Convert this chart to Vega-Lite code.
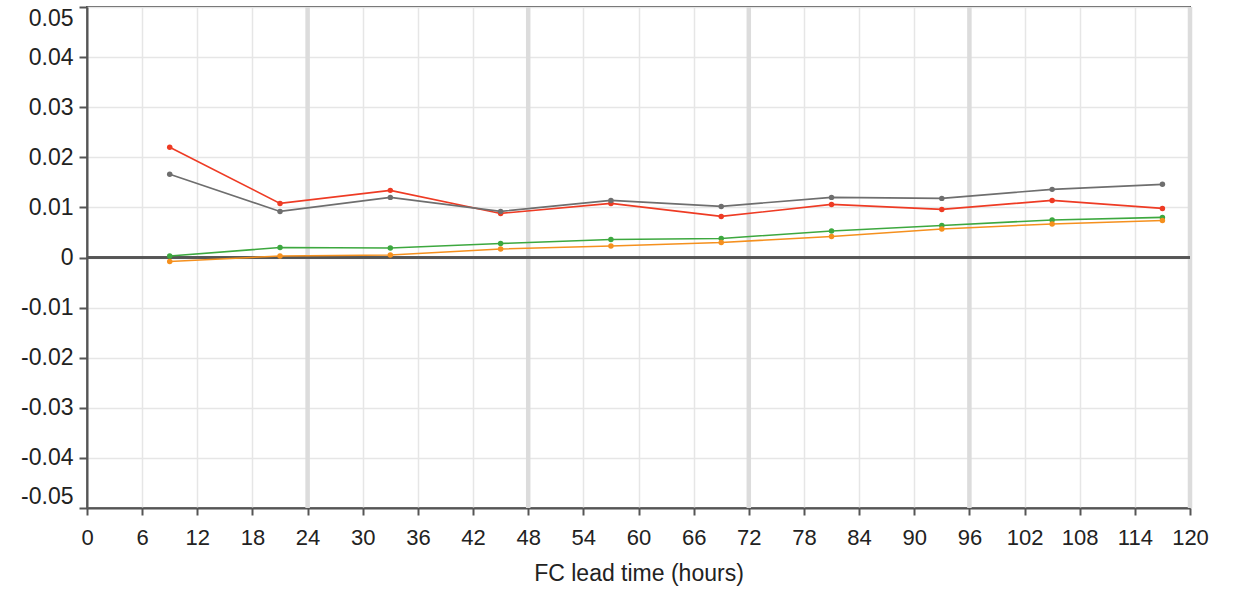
{
  "$schema": "https://vega.github.io/schema/vega-lite/v6.json",
  "autosize": "none",
  "width": 1103,
  "height": 501,
  "padding": {"left": 87, "top": 7, "right": 50, "bottom": 82},
  "config": {
    "font": "Liberation Sans",
    "view": {"stroke": "#555555", "strokeWidth": 2},
    "axis": {
      "labelFont": "Liberation Sans",
      "titleFont": "Liberation Sans",
      "labelFontSize": 22,
      "titleFontSize": 23,
      "labelColor": "#222222",
      "titleColor": "#222222",
      "titleFontWeight": "normal",
      "gridColor": "#e6e6e6",
      "gridWidth": 1.5,
      "domainColor": "#555555",
      "domainWidth": 2,
      "tickColor": "#555555",
      "tickWidth": 2,
      "tickSize": 7
    }
  },
  "datasets": {
    "series": [
      {"lead": 9, "series": "red", "value": 0.022},
      {"lead": 21, "series": "red", "value": 0.0108},
      {"lead": 33, "series": "red", "value": 0.0134},
      {"lead": 45, "series": "red", "value": 0.0088},
      {"lead": 57, "series": "red", "value": 0.0108},
      {"lead": 69, "series": "red", "value": 0.0082},
      {"lead": 81, "series": "red", "value": 0.0106},
      {"lead": 93, "series": "red", "value": 0.0096},
      {"lead": 105, "series": "red", "value": 0.0114},
      {"lead": 117, "series": "red", "value": 0.0098},
      {"lead": 9, "series": "grey", "value": 0.0166},
      {"lead": 21, "series": "grey", "value": 0.0092},
      {"lead": 33, "series": "grey", "value": 0.012},
      {"lead": 45, "series": "grey", "value": 0.0092},
      {"lead": 57, "series": "grey", "value": 0.0114},
      {"lead": 69, "series": "grey", "value": 0.0102},
      {"lead": 81, "series": "grey", "value": 0.012},
      {"lead": 93, "series": "grey", "value": 0.0118},
      {"lead": 105, "series": "grey", "value": 0.0136},
      {"lead": 117, "series": "grey", "value": 0.0146},
      {"lead": 9, "series": "green", "value": 0.0003},
      {"lead": 21, "series": "green", "value": 0.002},
      {"lead": 33, "series": "green", "value": 0.0019},
      {"lead": 45, "series": "green", "value": 0.0028},
      {"lead": 57, "series": "green", "value": 0.0036},
      {"lead": 69, "series": "green", "value": 0.0038},
      {"lead": 81, "series": "green", "value": 0.0053},
      {"lead": 93, "series": "green", "value": 0.0064},
      {"lead": 105, "series": "green", "value": 0.0075},
      {"lead": 117, "series": "green", "value": 0.008},
      {"lead": 9, "series": "orange", "value": -0.0008},
      {"lead": 21, "series": "orange", "value": 0.0003},
      {"lead": 33, "series": "orange", "value": 0.0005},
      {"lead": 45, "series": "orange", "value": 0.0017},
      {"lead": 57, "series": "orange", "value": 0.0023},
      {"lead": 69, "series": "orange", "value": 0.003},
      {"lead": 81, "series": "orange", "value": 0.0042},
      {"lead": 93, "series": "orange", "value": 0.0057},
      {"lead": 105, "series": "orange", "value": 0.0067},
      {"lead": 117, "series": "orange", "value": 0.0074}
    ],
    "days": [{"lead": 24}, {"lead": 48}, {"lead": 72}, {"lead": 96}, {"lead": 120}]
  },
  "layer": [
    {
      "data": {"name": "days"},
      "mark": {"type": "rule", "color": "#dcdcdc", "strokeWidth": 4.5},
      "encoding": {
        "x": {
          "field": "lead", "type": "quantitative",
          "scale": {"domain": [0, 120], "nice": false},
          "axis": {
            "values": [0,6,12,18,24,30,36,42,48,54,60,66,72,78,84,90,96,102,108,114,120],
            "title": "FC lead time (hours)",
            "titlePadding": 14,
            "labelPadding": 12,
            "labelFlush": false,
            "labelOverlap": false,
            "grid": true
          }
        }
      }
    },
    {
      "data": {"name": "days"},
      "mark": {"type": "rule", "color": "#555555", "strokeWidth": 2},
      "encoding": {"y": {"datum": 0, "type": "quantitative"}}
    },
    {
      "data": {"name": "series"},
      "mark": {"type": "line", "strokeWidth": 1.6, "point": {"size": 30, "filled": true}},
      "encoding": {
        "x": {"field": "lead", "type": "quantitative"},
        "y": {
          "field": "value", "type": "quantitative",
          "scale": {"domain": [-0.05, 0.05], "nice": false},
          "axis": {
            "values": [-0.05,-0.04,-0.03,-0.02,-0.01,0,0.01,0.02,0.03,0.04,0.05],
            "labelExpr": "datum.value < 0 ? '-' + format(-datum.value, '~g') : format(datum.value, '~g')",
            "labelFlush": true,
            "labelOverlap": false,
            "labelFontSize": 23,
            "tickSize": 8,
            "title": null,
            "labelPadding": 6,
            "grid": true
          }
        },
        "color": {
          "field": "series", "type": "nominal",
          "scale": {"domain": ["grey", "red", "green", "orange"], "range": ["#6e6e6e", "#ee3b24", "#3da83f", "#f5901e"]},
          "legend": null
        },
        "order": {"field": "lead"}
      }
    }
  ]
}
